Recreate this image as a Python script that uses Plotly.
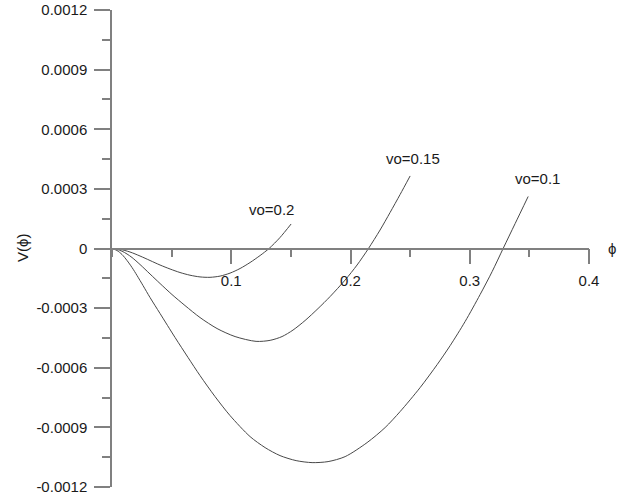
import plotly.graph_objects as go

# values
phi_v02 = [0, 0.0067, 0.0151, 0.0235, 0.0319, 0.0403, 0.0487, 0.0570, 0.0654, 0.0738, 0.0822,
           0.0906, 0.0990, 0.1074, 0.1158, 0.1242, 0.1317, 0.1409, 0.1502]
V_v02 = [0, -0.0000040, -0.0000176, -0.0000378, -0.0000604, -0.0000831, -0.0001032, -0.0001208,
         -0.0001344, -0.0001430, -0.0001450, -0.0001389, -0.0001238, -0.0001007, -0.0000705,
         -0.0000352, 0.0, 0.0000554, 0.0001233]

phi_v015 = [0, 0.0042, 0.0084, 0.0126, 0.0168, 0.0235, 0.0319, 0.0403, 0.0503, 0.0612, 0.0738,
            0.0881, 0.1032, 0.1208, 0.1326, 0.1426, 0.1518, 0.1619, 0.1728, 0.1829, 0.1955,
            0.2055, 0.2148, 0.2248, 0.2332, 0.2416, 0.2500]
V_v015 = [0, -0.0000045, -0.0000136, -0.0000277, -0.0000453, -0.0000805, -0.0001284, -0.0001762,
          -0.0002316, -0.0002869, -0.0003473, -0.0004027, -0.0004430, -0.0004672, -0.0004621,
          -0.0004430, -0.0004103, -0.0003624, -0.0003020, -0.0002416, -0.0001586, -0.0000831,
          -0.0000025, 0.0000931, 0.0001812, 0.0002718, 0.0003650]

phi_v01 = [0, 0.0042, 0.0084, 0.0126, 0.0168, 0.0210, 0.0260, 0.0319, 0.0403, 0.0529, 0.0638,
           0.0738, 0.0864, 0.0990, 0.1158, 0.1284, 0.1409, 0.1544, 0.1678, 0.1812, 0.1955,
           0.2139, 0.2290, 0.2416, 0.2584, 0.2727, 0.2836, 0.2961, 0.3087, 0.3188, 0.3280,
           0.3381, 0.3490]
V_v01 = [0, -0.0000101, -0.0000302, -0.0000604, -0.0000956, -0.0001359, -0.0001863, -0.0002467,
         -0.0003272, -0.0004480, -0.0005487, -0.0006393, -0.0007450, -0.0008407, -0.0009464,
         -0.0010018, -0.0010420, -0.0010672, -0.0010773, -0.0010722, -0.0010471, -0.0009766,
         -0.0009011, -0.0008205, -0.0006997, -0.0005839, -0.0004883, -0.0003675, -0.0002316,
         -0.0001158, 0.0, 0.0001259, 0.0002618]

series = [
    ("vo=0.2", phi_v02, V_v02),
    ("vo=0.15", phi_v015, V_v015),
    ("vo=0.1", phi_v01, V_v01),
]

label_text = ["vo=0.2", "vo=0.15", "vo=0.1"]
label_x = [0.1338, 0.2525, 0.3565]
label_y = [0.000196, 0.000453, 0.00035]

x_tickvals = [0.1, 0.2, 0.3, 0.4]
x_ticktext = ["0.1", "0.2", "0.3", "0.4"]
y_tickvals = [0.0012, 0.0009, 0.0006, 0.0003, 0, -0.0003, -0.0006, -0.0009, -0.0012]
y_ticktext = ["0.0012", "0.0009", "0.0006", "0.0003", "0", "-0.0003", "-0.0006", "-0.0009", "-0.0012"]

AXIS = "#808080"
LINE = "#484848"
TXT = "#1a1a1a"
FONT = "Liberation Sans, Arial, sans-serif"
FS = 15

fig = go.Figure()
for name, xs, ys in series:
    fig.add_trace(go.Scatter(x=xs, y=ys, mode="lines", name=name,
                             line=dict(color=LINE, width=1, shape="spline", smoothing=0.8),
                             showlegend=False, hoverinfo="skip"))

for t, x, y in zip(label_text, label_x, label_y):
    fig.add_annotation(x=x, y=y, xref="x", yref="y", text=t, showarrow=False,
                       font=dict(size=FS, color=TXT, family=FONT))

fig.add_annotation(x=-0.1876, y=0.5, xref="paper", yref="paper", text="V(ϕ)", textangle=-90,
                   xanchor="center", yanchor="middle",
                   showarrow=False, font=dict(size=FS, color=TXT, family=FONT))
fig.add_annotation(x=1.0482, y=0.5, xref="paper", yref="paper", text="ϕ",
                   xanchor="center", yanchor="middle",
                   showarrow=False, font=dict(size=FS, color=TXT, family=FONT))

fig.update_layout(
    width=630, height=497,
    margin=dict(l=112, r=41, t=10, b=10, autoexpand=False),
    paper_bgcolor="white", plot_bgcolor="white",
    font=dict(family=FONT, size=FS, color=TXT),
    xaxis=dict(range=[0, 0.4], anchor="free", position=0.5, automargin=False,
               showline=True, linecolor=AXIS, linewidth=1.5,
               showgrid=False, zeroline=False,
               ticks="outside", ticklen=15, tickcolor=AXIS, tickwidth=1.5,
               ticklabelstandoff=4,
               tickmode="array", tickvals=x_tickvals, ticktext=x_ticktext,
               tickfont=dict(size=FS, color=TXT, family=FONT),
               minor=dict(tick0=0, dtick=0.05, ticks="outside", ticklen=8,
                          tickcolor=AXIS, tickwidth=1.5, showgrid=False)),
    yaxis=dict(range=[-0.0012, 0.0012], automargin=False,
               showline=True, linecolor=AXIS, linewidth=1.5,
               showgrid=False, zeroline=False,
               ticks="outside", ticklen=16, tickcolor=AXIS, tickwidth=1.5,
               ticklabelstandoff=4,
               tickmode="array", tickvals=y_tickvals, ticktext=y_ticktext,
               tickfont=dict(size=FS, color=TXT, family=FONT),
               minor=dict(tick0=0, dtick=0.00015, ticks="outside", ticklen=8,
                          tickcolor=AXIS, tickwidth=1.5, showgrid=False)),
)

fig.write_html("out.html", config={"displayModeBar": False},
               post_script="document.body.style.margin='0';")
